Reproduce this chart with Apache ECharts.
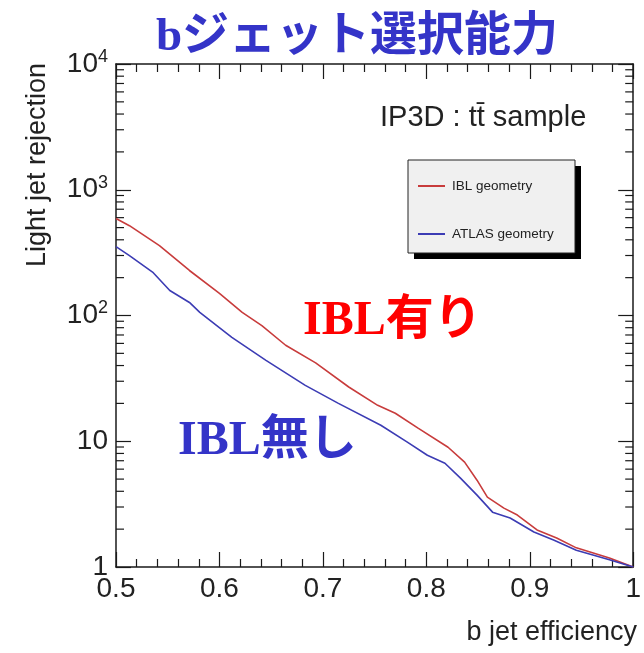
<!DOCTYPE html>
<html><head><meta charset="utf-8">
<script src="https://cdn.jsdelivr.net/npm/echarts@6/dist/echarts.min.js"></script>
<style>html,body{margin:0;padding:0;background:#fff}#c{width:644px;height:653px}</style>
</head><body><div id="c"></div>
<script>
const redX = [0.5,0.513,0.542,0.571,0.600,0.622,0.641,0.664,0.693,0.725,0.753,0.770,0.792,0.821,0.837,0.849,0.859,0.875,0.888,0.907,0.926,0.945,0.977,1.0];
const redY = [590,518,359,228,150,106,83,58,42,27,19.3,16.7,12.7,8.96,6.82,4.9,3.59,2.94,2.59,1.97,1.7,1.42,1.18,1.0];
const blueX = [0.5,0.513,0.536,0.552,0.571,0.581,0.612,0.645,0.683,0.715,0.756,0.782,0.801,0.818,0.833,0.849,0.864,0.881,0.904,0.923,0.945,0.977,1.0];
const blueY = [353,299,219,158,127,106,67,44,27.8,20,13.4,9.8,7.74,6.69,5.09,3.73,2.73,2.45,1.90,1.64,1.36,1.14,1.0];
const minorY = [2,3,4,5,6,7,8,9,20,30,40,50,60,70,80,90,200,300,400,500,600,700,800,900,2000,3000,4000,5000,6000,7000,8000,9000];
const seriesNames = ['IBL geometry','ATLAS geometry'];

const zip = (a,b)=>a.map((v,i)=>[v,b[i]]);
const chart = echarts.init(document.getElementById('c'));
const axisCol = '#1a1a1a';
const lblFont = 'Liberation Sans, Arial, sans-serif';
const cjkFont = '"Liberation Serif", "Noto Sans CJK JP", serif';

chart.setOption({
  animation:false,
  backgroundColor:'#fff',
  grid:{left:116,right:6,top:64,bottom:86},
  legend:{
    data:seriesNames, orient:'vertical', left:413, top:174, itemGap:34,
    itemWidth:27, itemHeight:2, icon:'rect',
    textStyle:{fontSize:13.5, color:'#222', fontFamily:lblFont, padding:[0,0,0,2]}
  },
  xAxis:[{
    type:'value', min:0.5, max:1, interval:0.1, position:'bottom',
    axisLine:{lineStyle:{color:axisCol,width:1.5}},
    axisTick:{inside:true,length:15,lineStyle:{color:axisCol,width:1.2}},
    minorTick:{show:true,splitNumber:5,length:8,lineStyle:{color:axisCol,width:1.2}},
    splitLine:{show:false},
    axisLabel:{fontSize:28,color:'#222',fontFamily:lblFont,margin:8,
      formatter:v=> (Math.abs(v-1)<1e-9?'1':v.toFixed(1))}
  },{
    type:'value', min:0.5, max:1, interval:0.1, position:'top',
    axisLine:{lineStyle:{color:axisCol,width:1.5}},
    axisTick:{inside:true,length:15,lineStyle:{color:axisCol,width:1.2}},
    minorTick:{show:true,splitNumber:5,length:8,lineStyle:{color:axisCol,width:1.2}},
    splitLine:{show:false}, axisLabel:{show:false}
  }],
  yAxis:[{
    type:'log', logBase:10, min:1, max:10000, position:'left',
    axisLine:{show:true,lineStyle:{color:axisCol,width:1.5}},
    axisTick:{show:true,inside:true,length:15,lineStyle:{color:axisCol,width:1.2}},
    splitLine:{show:false},
    axisLabel:{margin:8,color:'#222',fontFamily:lblFont,
      formatter:function(v){
        const e=Math.round(Math.log10(v));
        if(e===0) return '{b|1}';
        if(e===1) return '{b|10}';
        return '{b|10}{s|'+e+'}';
      },
      rich:{b:{fontSize:28,fontFamily:lblFont,color:'#222'},
            s:{fontSize:18,fontFamily:lblFont,color:'#222',padding:[0,0,14,0]}}
    }
  },{
    type:'log', logBase:10, min:1, max:10000, position:'right',
    axisLine:{show:true,lineStyle:{color:axisCol,width:1.5}},
    axisTick:{show:true,inside:true,length:15,lineStyle:{color:axisCol,width:1.2}},
    splitLine:{show:false}, axisLabel:{show:false}
  }],
  series:[
    {name:seriesNames[0],type:'line',data:zip(redX,redY),symbol:'none',
     lineStyle:{color:'#c83c3c',width:1.6},itemStyle:{color:'#c83c3c'},z:3},
    {name:seriesNames[1],type:'line',data:zip(blueX,blueY),symbol:'none',
     lineStyle:{color:'#3c3cb4',width:1.6},itemStyle:{color:'#3c3cb4'},z:3},
    {type:'custom',xAxisIndex:0,yAxisIndex:0,clip:false,silent:true,
     data:minorY.map(v=>[0.5,v]),
     renderItem:function(params,api){
       const v=api.value(1);
       const pl=api.coord([0.5,v]); const pr=api.coord([1,v]);
       return {type:'group',children:[
         {type:'line',shape:{x1:pl[0],y1:pl[1],x2:pl[0]+8,y2:pl[1]},style:{stroke:axisCol,lineWidth:1.2}},
         {type:'line',shape:{x1:pr[0],y1:pr[1],x2:pr[0]-8,y2:pr[1]},style:{stroke:axisCol,lineWidth:1.2}}
       ]};
     }}
  ],
  graphic:[
    {type:'text',x:357,y:38,style:{text:'bジェット選択能力',fill:'#3434c8',
      font:'bold 47px '+cjkFont,textAlign:'center',textVerticalAlign:'middle'}},
    {type:'text',x:38,y:165,rotation:Math.PI/2,style:{text:'Light jet rejection',fill:'#222',
      font:'27px '+lblFont,textAlign:'center',textVerticalAlign:'middle'}},
    {type:'text',x:637,y:633,style:{text:'b jet efficiency',fill:'#222',
      font:'27px '+lblFont,textAlign:'right',textVerticalAlign:'middle'}},
    {type:'text',x:380,y:118,style:{text:'IP3D : tt\u0304 sample',fill:'#222',
      font:'29px '+lblFont,textAlign:'left',textVerticalAlign:'middle'}},
    {type:'rect',z:-2,shape:{x:414,y:166,width:167,height:93},style:{fill:'#000'}},
    {type:'rect',z:-1,shape:{x:408,y:160,width:167,height:93},
      style:{fill:'#f0f0f0',stroke:'#222',lineWidth:1}},
    {type:'text',x:303,y:322,style:{text:'IBL有り',fill:'#ff0000',
      font:'bold 48px '+cjkFont,textAlign:'left',textVerticalAlign:'middle'}},
    {type:'text',x:178,y:442,style:{text:'IBL無し',fill:'#3434c8',
      font:'bold 48px '+cjkFont,textAlign:'left',textVerticalAlign:'middle'}}
  ]
});
</script></body></html>
